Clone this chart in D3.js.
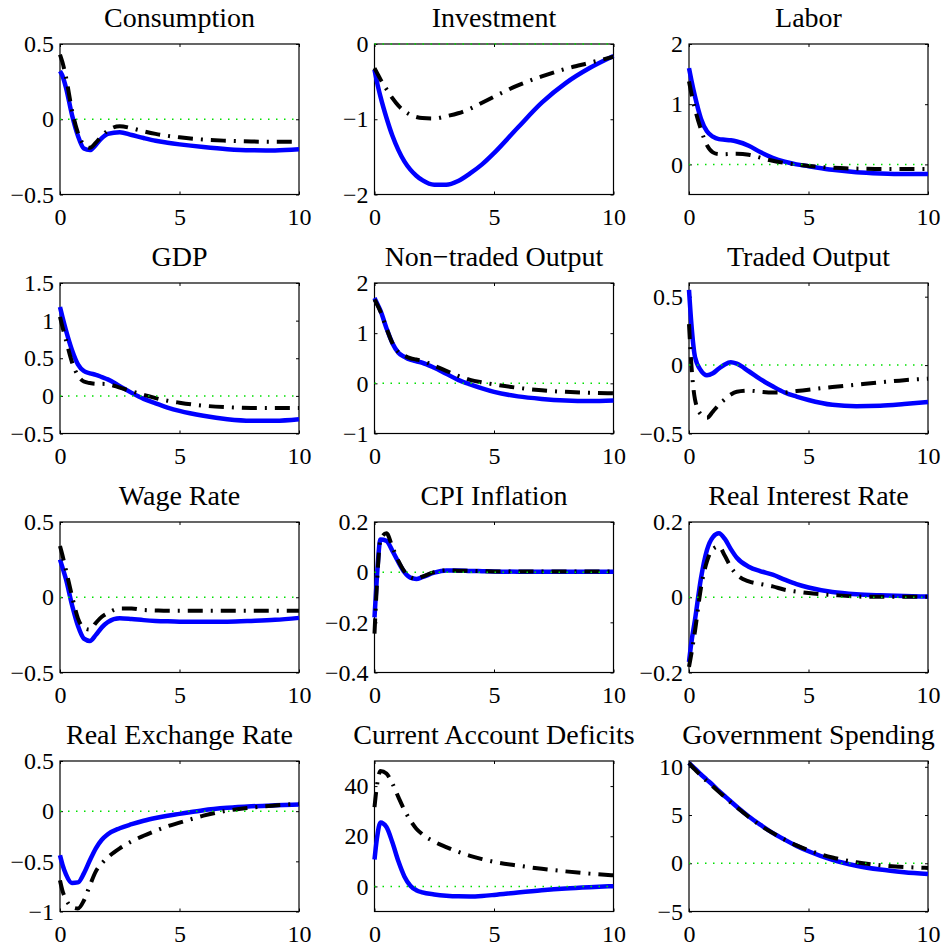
<!DOCTYPE html>
<html>
<head>
<meta charset="utf-8">
<script src="https://cdn.jsdelivr.net/npm/d3@7"></script>
<style>
  body { margin: 0; background: #fff; }
  svg { display: block; }
  text { font-family: "Liberation Serif", "Times New Roman", serif; fill: #000; }
</style>
</head>
<body>
<svg id="chart" width="943" height="946"></svg>
<script>
// Horizon (years after the shock) shared by every response
const horizon = [0, 0.1, 0.25, 0.5, 0.75, 1, 1.25, 1.5, 1.75, 2, 2.5, 3, 3.5, 4, 4.5, 5, 6, 7, 8, 9, 10];

const panelTitles = ["Consumption", "Investment", "Labor", "GDP", "Non\u2212traded Output", "Traded Output",
  "Wage Rate", "CPI Inflation", "Real Interest Rate", "Real Exchange Rate", "Current Account Deficits", "Government Spending"];

const yDomains = [[-0.5, 0.5], [-2, 0], [-0.5, 2], [-0.5, 1.5], [-1, 2], [-0.5, 0.6],
  [-0.5, 0.5], [-0.4, 0.2], [-0.2, 0.2], [-1, 0.5], [-10, 50], [-5, 10.6]];

const yTickValues = [[-0.5, 0, 0.5], [-2, -1, 0], [0, 1, 2], [-0.5, 0, 0.5, 1, 1.5], [-1, 0, 1, 2], [-0.5, 0, 0.5],
  [-0.5, 0, 0.5], [-0.4, -0.2, 0, 0.2], [-0.2, 0, 0.2], [-1, -0.5, 0, 0.5], [0, 20, 40], [-5, 0, 5, 10]];

const xTickValues = [0, 5, 10];

// Solid (blue) responses
const consumptionA = [0.32, 0.29, 0.21, 0.03, -0.11, -0.195, -0.205, -0.17, -0.125, -0.097, -0.086, -0.105, -0.125, -0.143, -0.156, -0.167, -0.185, -0.199, -0.206, -0.207, -0.2];
const investmentA = [-0.34, -0.5, -0.7, -0.98, -1.22, -1.41, -1.56, -1.67, -1.75, -1.81, -1.87, -1.87, -1.82, -1.72, -1.6, -1.45, -1.11, -0.78, -0.52, -0.32, -0.16];
const laborA = [1.6, 1.4, 1.13, 0.76, 0.55, 0.46, 0.42, 0.41, 0.4, 0.38, 0.31, 0.2, 0.11, 0.045, 0.0, -0.03, -0.09, -0.13, -0.15, -0.16, -0.16];
const gdpA = [1.18, 1.05, 0.87, 0.61, 0.42, 0.33, 0.3, 0.28, 0.25, 0.22, 0.13, 0.04, -0.04, -0.1, -0.155, -0.2, -0.265, -0.31, -0.33, -0.33, -0.31];
const nonTradedA = [1.7, 1.6, 1.45, 1.1, 0.8, 0.61, 0.53, 0.47, 0.44, 0.41, 0.31, 0.19, 0.07, -0.02, -0.1, -0.17, -0.26, -0.31, -0.34, -0.35, -0.34];
const tradedA = [0.55, 0.3, 0.06, -0.04, -0.075, -0.06, -0.025, 0.005, 0.02, 0.01, -0.045, -0.105, -0.155, -0.2, -0.23, -0.255, -0.29, -0.3, -0.297, -0.285, -0.27];
const wageA = [0.25, 0.2, 0.12, -0.05, -0.19, -0.275, -0.29, -0.25, -0.2, -0.165, -0.14, -0.145, -0.152, -0.157, -0.16, -0.162, -0.163, -0.162, -0.157, -0.15, -0.137];
const cpiA = [-0.18, -0.02, 0.13, 0.125, 0.085, 0.04, 0.0, -0.022, -0.027, -0.02, -0.002, 0.007, 0.007, 0.005, 0.004, 0.003, 0.002, 0.002, 0.002, 0.002, 0.002];
const realRateA = [-0.172, -0.12, -0.06, 0.05, 0.125, 0.16, 0.17, 0.155, 0.128, 0.105, 0.081, 0.069, 0.06, 0.047, 0.035, 0.026, 0.014, 0.008, 0.005, 0.003, 0.002];
const exchangeA = [-0.44, -0.53, -0.63, -0.715, -0.71, -0.62, -0.49, -0.37, -0.285, -0.23, -0.17, -0.13, -0.095, -0.068, -0.045, -0.027, 0.01, 0.033, 0.048, 0.058, 0.066];
const currentAccountA = [10.7, 19, 25.5, 23.7, 17.5, 10, 4, 0.3, -1.5, -2.4, -3.2, -3.7, -3.95, -4.0, -3.8, -3.4, -2.4, -1.5, -0.8, -0.3, 0.1];
const governmentA = [10.4, 10.15, 9.8, 9.2, 8.65, 8.1, 7.5, 6.95, 6.4, 5.86, 4.85, 3.97, 3.15, 2.45, 1.8, 1.25, 0.35, -0.25, -0.65, -0.92, -1.12];

// Dash-dot (black) responses
const consumptionB = [0.43, 0.38, 0.28, 0.06, -0.09, -0.17, -0.19, -0.155, -0.11, -0.075, -0.046, -0.06, -0.08, -0.097, -0.11, -0.12, -0.135, -0.143, -0.148, -0.15, -0.15];
const investmentB = [-0.32, -0.38, -0.47, -0.6, -0.72, -0.82, -0.89, -0.94, -0.97, -0.985, -0.99, -0.96, -0.92, -0.86, -0.78, -0.7, -0.55, -0.43, -0.33, -0.25, -0.17];
const laborB = [1.38, 1.18, 0.92, 0.58, 0.32, 0.2, 0.17, 0.17, 0.175, 0.175, 0.16, 0.11, 0.06, 0.025, 0.0, -0.025, -0.055, -0.07, -0.075, -0.075, -0.075];
const gdpB = [1.05, 0.92, 0.74, 0.45, 0.27, 0.19, 0.17, 0.16, 0.16, 0.155, 0.11, 0.06, 0.015, -0.03, -0.065, -0.09, -0.13, -0.15, -0.16, -0.16, -0.16];
const nonTradedB = [1.67, 1.58, 1.43, 1.1, 0.8, 0.62, 0.55, 0.5, 0.475, 0.45, 0.35, 0.25, 0.15, 0.07, 0.02, -0.02, -0.09, -0.14, -0.17, -0.19, -0.2];
const tradedB = [0.3, 0.0, -0.25, -0.36, -0.385, -0.34, -0.29, -0.25, -0.215, -0.195, -0.187, -0.195, -0.2, -0.2, -0.19, -0.18, -0.16, -0.143, -0.126, -0.11, -0.1];
const wageB = [0.34, 0.28, 0.18, 0.01, -0.14, -0.205, -0.215, -0.17, -0.13, -0.105, -0.075, -0.075, -0.085, -0.088, -0.09, -0.09, -0.09, -0.09, -0.09, -0.09, -0.09];
const cpiB = [-0.245, -0.05, 0.13, 0.155, 0.1, 0.045, 0.003, -0.02, -0.027, -0.018, 0.0, 0.007, 0.006, 0.005, 0.004, 0.003, 0.003, 0.003, 0.003, 0.003, 0.003];
const realRateB = [-0.185, -0.15, -0.09, 0.025, 0.095, 0.128, 0.135, 0.11, 0.08, 0.06, 0.042, 0.035, 0.029, 0.02, 0.015, 0.011, 0.006, 0.002, 0.001, 0.001, 0.001];
const exchangeB = [-0.69, -0.79, -0.88, -0.955, -0.97, -0.89, -0.74, -0.6, -0.52, -0.46, -0.37, -0.3, -0.245, -0.195, -0.15, -0.115, -0.045, 0.005, 0.035, 0.057, 0.074];
const currentAccountB = [31.6, 40, 46, 45, 41, 35.6, 30.5, 26.3, 23, 20.8, 17.8, 15.7, 13.8, 12.2, 10.9, 9.8, 8.3, 7.0, 6.0, 5.1, 4.4];
const governmentB = [10.4, 10.1, 9.7, 9.1, 8.5, 7.95, 7.4, 6.85, 6.3, 5.8, 4.8, 3.9, 3.15, 2.45, 1.85, 1.35, 0.6, 0.1, -0.2, -0.38, -0.48];

const solidSeries = [consumptionA, investmentA, laborA, gdpA, nonTradedA, tradedA,
  wageA, cpiA, realRateA, exchangeA, currentAccountA, governmentA];
const dashDotSeries = [consumptionB, investmentB, laborB, gdpB, nonTradedB, tradedB,
  wageB, cpiB, realRateB, exchangeB, currentAccountB, governmentB];

// Grid geometry
const colLeft = [60, 374.5, 689];
const rowTop = [44, 283, 522, 761];
const plotW = 239, plotH = 150.5;
const tickLen = 3;

const svg = d3.select("#chart");
const fmt = d => (d < 0 ? "\u2212" : "") + String(Math.abs(d));

panelTitles.forEach((title, i) => {
  const r = Math.floor(i / 3), c = i % 3;
  const g = svg.append("g").attr("transform", `translate(${colLeft[c]},${rowTop[r]})`);
  const x = d3.scaleLinear().domain([0, 10]).range([0, plotW]);
  const y = d3.scaleLinear().domain(yDomains[i]).range([plotH, 0]);

  // axes: ticks point inward on all four sides
  const styleAxis = sel => {
    sel.select(".domain").remove();
    sel.selectAll(".tick line").attr("stroke", "#000").attr("stroke-width", 1);
    sel.selectAll(".tick text").attr("font-size", 24).attr("fill", "#000")
      .attr("font-family", "'Liberation Serif', 'Times New Roman', serif");
  };
  g.append("g").attr("transform", `translate(0,${plotH})`)
    .call(d3.axisBottom(x).tickValues(xTickValues).tickSizeInner(-tickLen).tickSizeOuter(0).tickPadding(13).tickFormat(fmt))
    .call(styleAxis);
  g.append("g")
    .call(d3.axisTop(x).tickValues(xTickValues).tickSizeInner(-tickLen).tickSizeOuter(0).tickFormat(""))
    .call(styleAxis);
  g.append("g")
    .call(d3.axisLeft(y).tickValues(yTickValues[i]).tickSizeInner(-tickLen).tickSizeOuter(0).tickPadding(6).tickFormat(fmt))
    .call(styleAxis);
  g.append("g").attr("transform", `translate(${plotW},0)`)
    .call(d3.axisRight(y).tickValues(yTickValues[i]).tickSizeInner(-tickLen).tickSizeOuter(0).tickFormat(""))
    .call(styleAxis);

  g.append("rect").attr("x", 0).attr("y", 0).attr("width", plotW).attr("height", plotH)
    .attr("fill", "none").attr("stroke", "#000").attr("stroke-width", 1.2);

  const line = d3.line().x((d, k) => x(horizon[k])).y(d => y(d)).curve(d3.curveMonotoneX);

  g.append("path").datum(solidSeries[i]).attr("d", line)
    .attr("fill", "none").attr("stroke", "#0000ff").attr("stroke-width", 4.5)
    .attr("stroke-linejoin", "round");

  g.append("path").datum(dashDotSeries[i]).attr("d", line)
    .attr("fill", "none").attr("stroke", "#000").attr("stroke-width", 4)
    .attr("stroke-dasharray", "15,8,2,8");

  // zero reference line
  g.append("line").attr("x1", x(0)).attr("x2", x(10)).attr("y1", y(0)).attr("y2", y(0))
    .attr("stroke", "#00e000").attr("stroke-width", 1.5).attr("stroke-dasharray", "1.5,6.5");

  g.append("text").attr("x", plotW / 2).attr("y", -17).attr("text-anchor", "middle")
    .attr("font-size", 28).text(title);
});
</script>
</body>
</html>
